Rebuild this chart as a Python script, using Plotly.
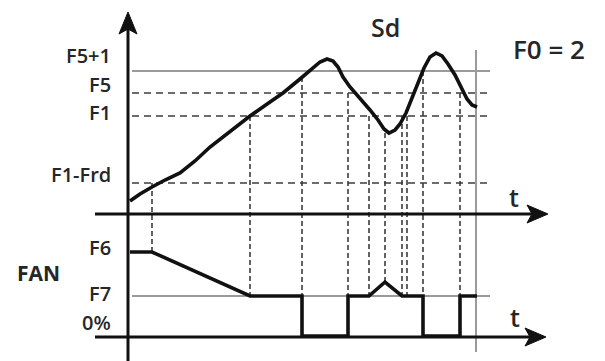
import plotly.graph_objects as go

# ── Diagram data (time axis / level axis, in drawing units) ─────────────────
# Probe temperature Sd over time
SD_T = [130, 140, 152, 165, 180, 195, 210, 230, 250, 270, 283, 300, 312, 320, 327,
        333, 338, 343, 350, 360, 370, 378, 384, 389, 395, 400, 406, 412, 418, 424,
        430, 436, 442, 448, 455, 462, 467, 472, 477]
SD_Y = [201, 194, 187, 180, 173, 161, 147, 131, 116, 102, 93, 79, 69, 62, 59,
        61, 67, 77, 87, 98, 110, 120, 129, 133, 130, 124, 113, 98, 82, 68,
        57, 53, 56, 64, 75, 89, 99, 105, 107]

# Fan speed over time
FAN_T = [130, 152, 250, 302, 302, 348, 348, 369, 385, 402, 423, 423, 460, 460, 477]
FAN_Y = [252, 252, 296, 296, 336, 336, 296, 296, 282, 296, 296, 336, 336, 296, 296]

# Threshold levels
LEVEL_NAMES = ["F5+1", "F5", "F1", "F1-Frd"]
LEVEL_Y = [71, 93, 116, 183]
FAN_LEVEL_NAMES = ["F6", "F7", "0%"]
FAN_LEVEL_Y = [252, 296, 336]

# Switching instants (vertical guide lines): time, top, bottom
EVENT_T = [152, 250, 302, 348, 369, 385, 402, 407, 423, 460]
EVENT_TOP = [183, 116, 77, 93, 116, 133, 116, 108, 71, 93]
EVENT_BOT = [252, 296, 296, 296, 296, 282, 296, 296, 296, 296]

INK = "#111111"
GREY = "#9a9a9a"
DASH = "#3c3c3c"
TXT = "#262626"
FONT = "Open Sans"
PAGE_PAD = 8   # default body margin of the html page

fig = go.Figure()


def seg(x, y, color=INK, width=3, dash=None):
    fig.add_trace(go.Scatter(x=x, y=y, mode="lines", hoverinfo="skip",
                             line=dict(color=color, width=width, dash=dash)))


def arrow(pts):
    xs = [p[0] for p in pts] + [pts[0][0]]
    ys = [p[1] for p in pts] + [pts[0][1]]
    fig.add_trace(go.Scatter(x=xs, y=ys, mode="lines", fill="toself",
                             fillcolor=INK, line=dict(color=INK, width=1),
                             hoverinfo="skip"))


# reference grid lines
seg([132, 490], [LEVEL_Y[0]] * 2, GREY, 2.2)
seg([132, 490], [FAN_LEVEL_Y[1]] * 2, GREY, 2)
for y in LEVEL_Y[1:]:
    seg([132, 490], [y, y], DASH, 1.6, "7px,5px")
for t, top, bot in zip(EVENT_T, EVENT_TOP, EVENT_BOT):
    seg([t, t], [top, bot], DASH, 1.6, "5px,3px")
seg([476, 476], [50, 352], GREY, 2)

# axes
seg([128, 128], [361, 28], INK, 3)
arrow([(128, 12), (119, 34), (128, 29), (137, 34)])
seg([95, 535], [214, 214], INK, 3)
arrow([(548, 214), (527, 205), (532, 214), (527, 223)])
seg([95, 533], [337, 337], INK, 3)
arrow([(546, 337), (525, 328), (530, 337), (525, 346)])

# signals
seg(SD_T, SD_Y, INK, 3.6)
seg(FAN_T, FAN_Y, INK, 3.6)

# level labels sit a little above their lines
label_y = dict(zip(LEVEL_NAMES + FAN_LEVEL_NAMES, [55, 84, 112, 174, 247, 293, 322]))
notes = []
for name in LEVEL_NAMES + FAN_LEVEL_NAMES:
    notes.append(dict(x=113, y=label_y[name], text=name, xanchor="right",
                      size=20, weight=600))
notes += [
    dict(x=385, y=27, text="Sd", xanchor="center", size=25, weight=600),
    dict(x=549, y=49, text="F0 = 2", xanchor="center", size=26, weight=600),
    dict(x=38, y=273, text="FAN", xanchor="center", size=21, weight=700),
    dict(x=514, y=197, text="t", xanchor="center", size=25, weight=600),
    dict(x=515, y=317, text="t", xanchor="center", size=25, weight=600),
]
for n in notes:
    fig.add_annotation(x=n["x"], y=n["y"], text=n["text"], showarrow=False,
                       xanchor=n["xanchor"], yanchor="middle",
                       font=dict(family=FONT, size=n["size"], color=TXT,
                                 weight=n["weight"]))

fig.update_layout(
    width=605 - PAGE_PAD, height=361 - PAGE_PAD,
    margin=dict(l=0, r=0, t=0, b=0),
    paper_bgcolor="white", plot_bgcolor="white",
    showlegend=False,
    xaxis=dict(range=[PAGE_PAD, 605], visible=False, fixedrange=True),
    yaxis=dict(range=[361, PAGE_PAD], visible=False, fixedrange=True),
)

fig.write_html("out.html")
